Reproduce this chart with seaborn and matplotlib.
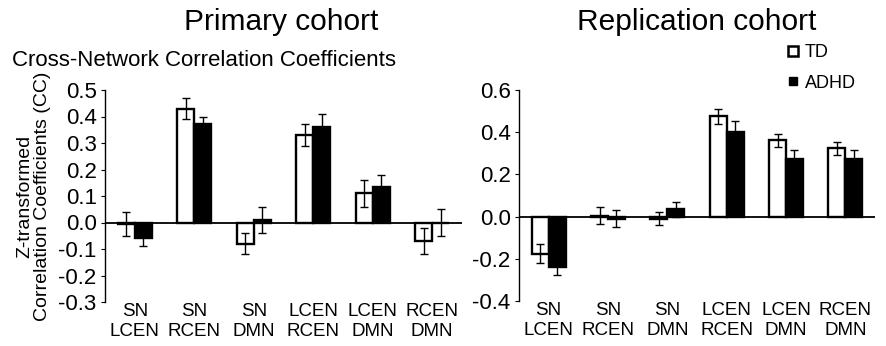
import matplotlib
matplotlib.use("Agg")
import matplotlib.pyplot as plt
import seaborn as sns
import pandas as pd
import numpy as np
from matplotlib.lines import Line2D
from matplotlib import font_manager

pairs = ["SN\nLCEN", "SN\nRCEN", "SN\nDMN", "LCEN\nRCEN", "LCEN\nDMN", "RCEN\nDMN"]
groups = ["TD", "ADHD"]

primary_td = [-0.005, 0.43, -0.08, 0.33, 0.11, -0.07]
primary_td_err = [0.045, 0.04, 0.04, 0.04, 0.05, 0.05]
primary_adhd = [-0.06, 0.37, 0.01, 0.36, 0.135, 0.0]
primary_adhd_err = [0.03, 0.03, 0.05, 0.05, 0.045, 0.05]

repl_td = [-0.175, 0.005, -0.01, 0.475, 0.362, 0.323]
repl_td_err = [0.045, 0.04, 0.03, 0.035, 0.03, 0.032]
repl_adhd = [-0.24, -0.01, 0.035, 0.40, 0.272, 0.272]
repl_adhd_err = [0.035, 0.04, 0.035, 0.055, 0.043, 0.042]

primary_ticks = [-0.3, -0.2, -0.1, 0.0, 0.1, 0.2, 0.3, 0.4, 0.5]
repl_ticks = [-0.4, -0.2, 0.0, 0.2, 0.4, 0.6]

FONT = ["Liberation Sans", "DejaVu Sans"]
names = {f.name for f in font_manager.fontManager.ttflist}
NARROW = ["Liberation Sans Narrow", "Liberation Sans", "DejaVu Sans"] if "Liberation Sans Narrow" in names else FONT
XSIZE = 14 if NARROW is not FONT else 13.5

sns.set_theme(style="white")
plt.rcParams["font.family"] = FONT
plt.rcParams["text.color"] = "black"
plt.rcParams["axes.labelcolor"] = "black"

fig = plt.figure(figsize=(8.86, 3.46), dpi=100)
axL = fig.add_axes([105/886, 1-302/346, 357/886, 212/346])
axR = fig.add_axes([519/886, 1-301/346, 356/886, 211/346])


def draw(ax, td, tde, adhd, adhde, ticks, fmt):
    df = pd.DataFrame({
        "pair": pairs * 2,
        "group": ["TD"] * 6 + ["ADHD"] * 6,
        "value": list(td) + list(adhd),
    })
    sns.barplot(data=df, x="pair", y="value", hue="group", order=pairs,
                hue_order=groups, palette={"TD": "white", "ADHD": "black"},
                width=0.57, dodge=True, gap=0, edgecolor="black", linewidth=1.7,
                errorbar=None, legend=False, ax=ax, saturation=1)
    errs = list(tde) + list(adhde)
    vals = list(td) + list(adhd)
    patches = [p for p in ax.patches][:12]
    for p, v, e in zip(patches, vals, errs):
        cx = p.get_x() + p.get_width() / 2
        ax.errorbar(cx, v, yerr=e, fmt="none", ecolor="black", elinewidth=1.0,
                    capsize=2.8, capthick=1.0, zorder=5)
    ax.axhline(0, color="black", lw=1.3, zorder=4)
    ax.set_xlim(-0.5, 5.5)
    ax.set_ylim(ticks[0], ticks[-1])
    ax.set_yticks(ticks)
    ax.set_yticklabels([fmt.format(t) for t in ticks])
    ax.set_xlabel("")
    ax.set_ylabel("")
    for s in ["top", "right", "bottom"]:
        ax.spines[s].set_visible(False)
    ax.spines["left"].set_color("black")
    ax.spines["left"].set_linewidth(1.0)
    ax.tick_params(axis="y", left=True, direction="out", length=3, width=0.8,
                   labelsize=16, pad=3, colors="black")
    ax.tick_params(axis="x", bottom=False, labelsize=XSIZE, pad=-5, colors="black")
    for lab in ax.get_xticklabels():
        lab.set_linespacing(1.22)
        lab.set_va("top")
        lab.set_family(NARROW)


draw(axL, primary_td, primary_td_err, primary_adhd, primary_adhd_err, primary_ticks, "{:.1f}")
draw(axR, repl_td, repl_td_err, repl_adhd, repl_adhd_err, repl_ticks, "{:.1f}")

axL.set_ylabel("Z-transformed\nCorrelation Coefficients (CC)", fontsize=14, labelpad=5, linespacing=1.05)

fig.text(281/886, 1-22/346, "Primary cohort", ha="center", va="center", fontsize=21.5)
fig.text(697/886, 1-22/346, "Replication cohort", ha="center", va="center", fontsize=21.5)
fig.text(12/886, 1-60/346, "Cross-Network Correlation Coefficients", ha="left", va="center", fontsize=16)

handles = [
    Line2D([], [], marker="s", ls="none", markerfacecolor="white", markeredgecolor="black",
           markeredgewidth=1.8, markersize=7.5),
    Line2D([], [], marker="s", ls="none", markerfacecolor="black", markeredgecolor="black",
           markersize=6),
]
fig.legend(handles, groups, loc="upper left", bbox_to_anchor=(784/886, 1-44/346),
           frameon=False, fontsize=13, handletextpad=0.15, labelspacing=0.75,
           handlelength=1.0, borderaxespad=0, borderpad=0)

fig.savefig("out.png", dpi=100)
